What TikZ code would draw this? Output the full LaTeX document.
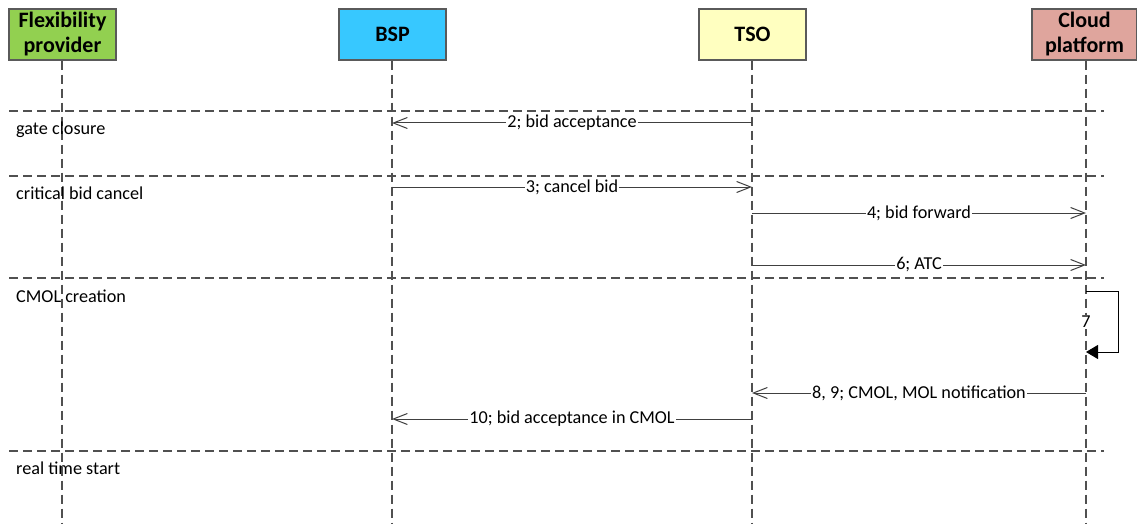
\documentclass[tikz,border=0pt]{standalone}
\usepackage{fontspec}
\setmainfont{Carlito}
\usetikzlibrary{arrows.meta}
\definecolor{flexgreen}{HTML}{92D050}
\definecolor{bspblue}{HTML}{37C8FF}
\definecolor{tsoyellow}{HTML}{FFFFC0}
\definecolor{cloudpink}{HTML}{DFA59D}
\definecolor{framegray}{HTML}{5A5A5A}
\definecolor{linegray}{HTML}{505050}
\definecolor{msggray}{HTML}{404040}
\tikzset{
  actor/.style={draw=framegray, line width=1.3pt, minimum width=107pt, minimum height=51pt,
    align=center, font=\fontsize{22}{25}\selectfont\bfseries, inner sep=0pt},
  lifeline/.style={draw=linegray, line width=1.3pt, dash pattern=on 9pt off 5pt},
  phaseline/.style={draw=linegray, line width=1.3pt, dash pattern=on 9pt off 5pt},
  phaselabel/.style={anchor=west, font=\fontsize{18.2}{21}\selectfont, inner sep=0pt},
  msg/.style={draw=msggray, line width=1pt, -{Straight Barb[length=14pt,width=11pt]}},
  msglabel/.style={fill=white, inner sep=1pt, font=\fontsize{18.2}{21}\selectfont},
  selfmsg/.style={draw=black, line width=1pt, -{Triangle[length=12pt,width=14pt]}}
}
\begin{document}
\begin{tikzpicture}[x=1pt,y=-1pt]
\useasboundingbox (0,0) rectangle (1137,524);
\fill[white] (0,0) rectangle (1137,524);

% participants
\node[actor, fill=flexgreen] (fp) at (62.5,34.5) {Flexibility\\provider};
\node[actor, fill=bspblue] (bsp) at (392.5,34.5) {BSP};
\node[actor, fill=tsoyellow] (tso) at (752.5,34.5) {TSO};
\node[actor, fill=cloudpink, minimum width=105pt] (cp) at (1084.5,34.5) {Cloud\\platform};

% lifeline ends
\coordinate (fpE) at (62,524);
\coordinate (bspE) at (392,524);
\coordinate (tsoE) at (752,524);
\coordinate (cpE) at (1086,524);
\draw[lifeline] (fp.south -| fpE) -- (fpE);
\draw[lifeline] (bsp.south -| bspE) -- (bspE);
\draw[lifeline] (tso.south -| tsoE) -- (tsoE);
\draw[lifeline] (cp.south -| cpE) -- (cpE);

% phase separators
\coordinate (sL) at (9,0);
\coordinate (sR) at (1104,0);
\foreach \yy in {111,176,278,451} {
  \draw[phaseline] (sL |- 0,\yy) -- (sR |- 0,\yy);
}
\node[phaselabel] (p1) at (16,130) {gate closure};
\node[phaselabel] (p2) at (16,193) {critical bid cancel};
\node[phaselabel] (p3) at (16,296) {CMOL creation};
\node[phaselabel] (p4) at (16,468) {real time start};

% message anchor points on the lifelines
\coordinate (m2s) at (752,123);   \coordinate (m2e) at (392,123);
\coordinate (m3s) at (392,187);   \coordinate (m3e) at (752,187);
\coordinate (m4s) at (752,213);   \coordinate (m4e) at (1086,213);
\coordinate (m6s) at (752,265);   \coordinate (m6e) at (1086,265);
\coordinate (m7s) at (1086,291);  \coordinate (m7e) at (1086,352);
\coordinate (m8s) at (1086,393);  \coordinate (m8e) at (752,393);
\coordinate (m10s) at (752,419);  \coordinate (m10e) at (392,419);

\draw[msg] (m2s) -- node[msglabel] {2; bid acceptance} (m2e);
\draw[msg] (m3s) -- node[msglabel] {3; cancel bid} (m3e);
\draw[msg] (m4s) -- node[msglabel] {4; bid forward} (m4e);
\draw[msg] (m6s) -- node[msglabel] {6; ATC} (m6e);
\draw[selfmsg] (m7s) -- ++(32,0) |- (m7e);
\node[fill=white, font=\fontsize{18.2}{21}\selectfont, inner sep=1pt] (l7) at (1086,322) {7};
\draw[msg] (m8s) -- node[msglabel] {8, 9; CMOL, MOL notification} (m8e);
\draw[msg] (m10s) -- node[msglabel] {10; bid acceptance in CMOL} (m10e);
\end{tikzpicture}
\end{document}
